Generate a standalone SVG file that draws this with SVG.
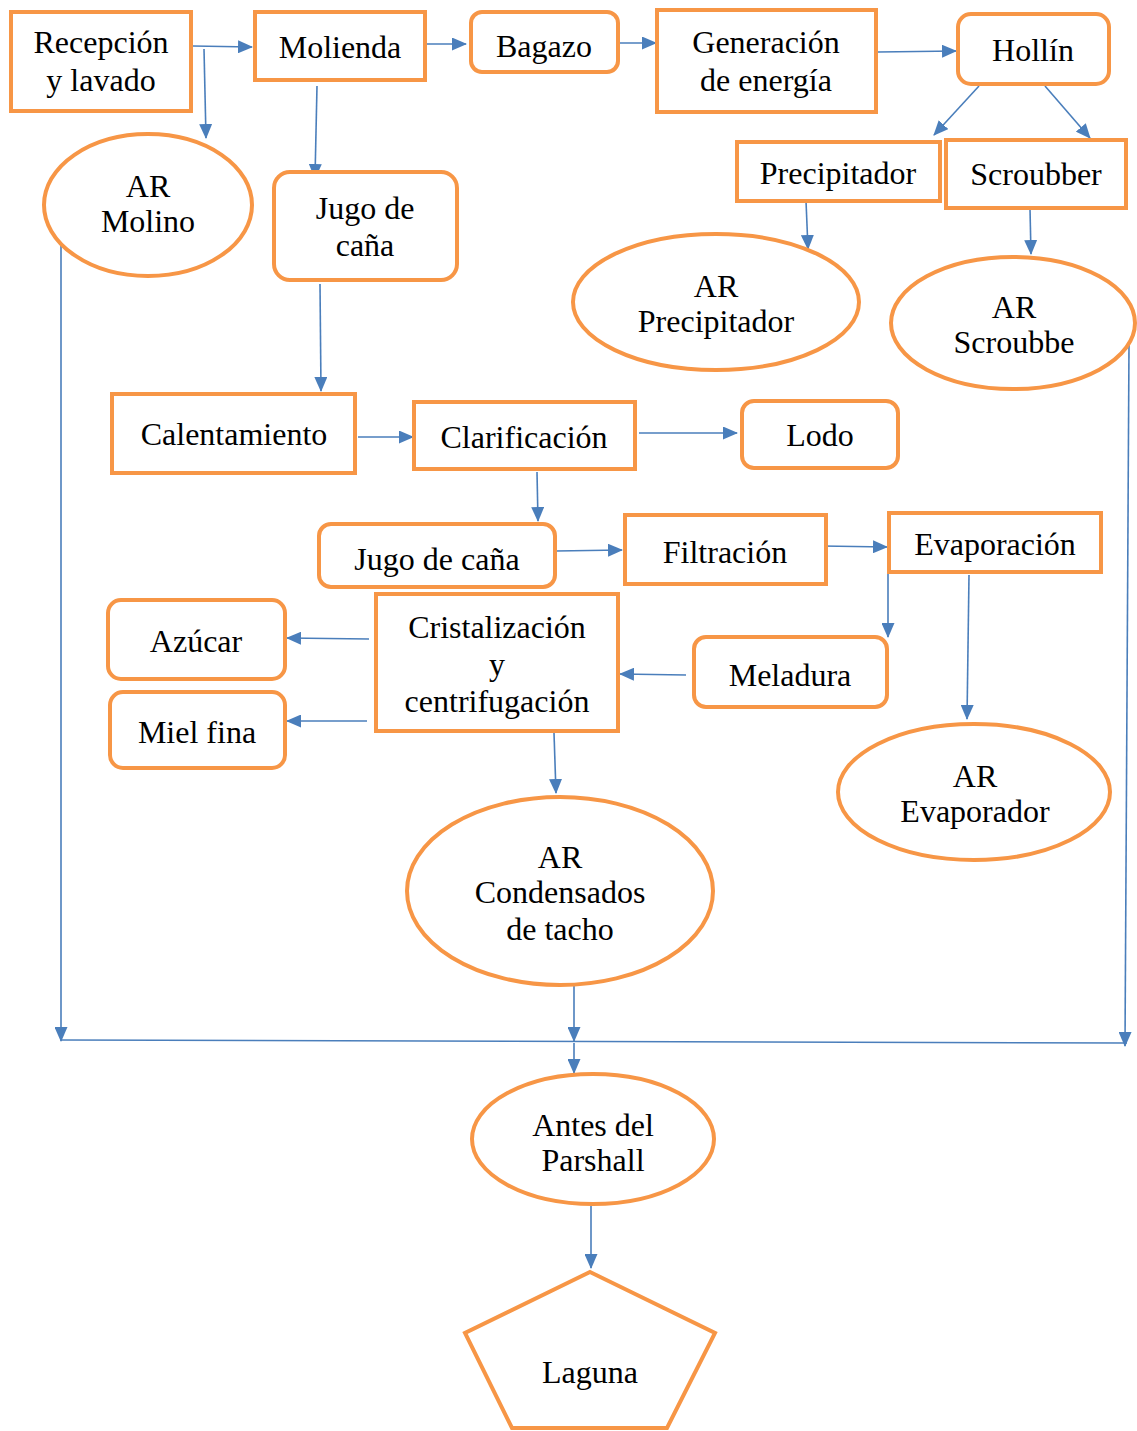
<svg xmlns="http://www.w3.org/2000/svg" width="1137" height="1431" viewBox="0 0 1137 1431">
<defs>
<style>
.n{fill:#fff;stroke:#F79646;stroke-width:4}
.t{font-family:"Liberation Serif","Times New Roman",serif;font-size:32px;fill:#000;text-anchor:middle}
.c{stroke:#4A7EBB;stroke-width:1.6;fill:none}
.a{marker-end:url(#ah)}
</style>
<marker id="ah" markerUnits="userSpaceOnUse" markerWidth="15" markerHeight="13" refX="14" refY="6.5" orient="auto">
<path d="M0,0 L15,6.5 L0,13 Z" fill="#4A7EBB"/>
</marker>
</defs>
<rect width="1137" height="1431" fill="#fff"/>
<g id="connectors">
<line class="c a" x1="193" y1="46" x2="252" y2="47"/>
<line class="c a" x1="204" y1="49" x2="206" y2="138"/>
<line class="c a" x1="427" y1="44" x2="466" y2="44"/>
<line class="c a" x1="620" y1="43" x2="656" y2="43"/>
<line class="c a" x1="878" y1="52" x2="956" y2="51"/>
<line class="c a" x1="979" y1="86" x2="934" y2="135"/>
<line class="c a" x1="1045" y1="86" x2="1090" y2="138"/>
<line class="c a" x1="317" y1="86" x2="315" y2="178"/>
<line class="c a" x1="806" y1="201" x2="808" y2="249"/>
<line class="c a" x1="1030" y1="209" x2="1031" y2="254"/>
<line class="c a" x1="320" y1="284" x2="321" y2="391"/>
<line class="c a" x1="358" y1="437" x2="413" y2="437"/>
<line class="c a" x1="639" y1="433" x2="737" y2="433"/>
<line class="c a" x1="537" y1="472" x2="538" y2="521"/>
<line class="c a" x1="556" y1="551" x2="622" y2="550"/>
<line class="c a" x1="822" y1="546" x2="887" y2="547"/>
<line class="c a" x1="888" y1="574" x2="888" y2="637"/>
<line class="c a" x1="969" y1="575" x2="967" y2="719"/>
<line class="c a" x1="686" y1="675" x2="620" y2="674"/>
<line class="c a" x1="369" y1="639" x2="287" y2="638"/>
<line class="c a" x1="367" y1="721" x2="287" y2="721"/>
<line class="c a" x1="554" y1="733" x2="556" y2="793"/>
<line class="c a" x1="61" y1="236" x2="61" y2="1041"/>
<line class="c a" x1="1129" y1="345" x2="1125" y2="1046"/>
<line class="c" x1="61" y1="1040" x2="1127" y2="1043"/>
<line class="c a" x1="574" y1="983" x2="574" y2="1041"/>
<line class="c a" x1="574" y1="1043" x2="574" y2="1073"/>
<line class="c a" x1="591" y1="1206" x2="591" y2="1268"/>
</g>
<g id="recepcion"><rect class="n" x="11" y="12" width="180" height="99"/><text class="t" x="101" y="53">Recepción</text><text class="t" x="101" y="91">y lavado</text></g>
<g id="molienda"><rect class="n" x="255" y="12" width="170" height="68"/><text class="t" x="340" y="58">Molienda</text></g>
<g id="bagazo"><rect class="n" x="471" y="12" width="147" height="60" rx="11"/><text class="t" x="544" y="57">Bagazo</text></g>
<g id="generacion"><rect class="n" x="657" y="10" width="219" height="102"/><text class="t" x="766" y="53">Generación</text><text class="t" x="766" y="91">de energía</text></g>
<g id="hollin"><rect class="n" x="958" y="14" width="151" height="70" rx="13"/><text class="t" x="1033" y="61">Hollín</text></g>
<g id="precipitador"><rect class="n" x="737" y="142" width="203" height="59"/><text class="t" x="838" y="184">Precipitador</text></g>
<g id="scroubber"><rect class="n" x="946" y="140" width="180" height="68"/><text class="t" x="1036" y="185">Scroubber</text></g>
<g id="ar-molino"><ellipse class="n" cx="148" cy="205" rx="104" ry="71"/><text class="t" x="148" y="197">AR</text><text class="t" x="148" y="232">Molino</text></g>
<g id="jugo1"><rect class="n" x="274" y="172" width="183" height="108" rx="16"/><text class="t" x="365" y="219">Jugo de</text><text class="t" x="365" y="256">caña</text></g>
<g id="ar-precipitador"><ellipse class="n" cx="716" cy="302" rx="143" ry="68"/><text class="t" x="716" y="297">AR</text><text class="t" x="716" y="332">Precipitador</text></g>
<g id="ar-scroubbe"><ellipse class="n" cx="1013" cy="323" rx="122" ry="66"/><text class="t" x="1014" y="318">AR</text><text class="t" x="1014" y="353">Scroubbe</text></g>
<g id="calentamiento"><rect class="n" x="112" y="394" width="243" height="79"/><text class="t" x="234" y="445">Calentamiento</text></g>
<g id="clarificacion"><rect class="n" x="414" y="402" width="221" height="67"/><text class="t" x="524" y="448">Clarificación</text></g>
<g id="lodo"><rect class="n" x="742" y="401" width="156" height="67" rx="12"/><text class="t" x="820" y="446">Lodo</text></g>
<g id="jugo2"><rect class="n" x="319" y="524" width="236" height="63" rx="12"/><text class="t" x="437" y="570">Jugo de caña</text></g>
<g id="filtracion"><rect class="n" x="625" y="515" width="201" height="69"/><text class="t" x="725" y="563">Filtración</text></g>
<g id="evaporacion"><rect class="n" x="889" y="513" width="212" height="59"/><text class="t" x="995" y="555">Evaporación</text></g>
<g id="azucar"><rect class="n" x="108" y="600" width="177" height="79" rx="13"/><text class="t" x="196" y="652">Azúcar</text></g>
<g id="cristalizacion"><rect class="n" x="376" y="594" width="242" height="137"/><text class="t" x="497" y="638">Cristalización</text><text class="t" x="497" y="675">y</text><text class="t" x="497" y="712">centrifugación</text></g>
<g id="meladura"><rect class="n" x="694" y="637" width="193" height="70" rx="12"/><text class="t" x="790" y="686">Meladura</text></g>
<g id="miel"><rect class="n" x="110" y="692" width="175" height="76" rx="13"/><text class="t" x="197" y="743">Miel fina</text></g>
<g id="ar-evaporador"><ellipse class="n" cx="974" cy="792" rx="136" ry="68"/><text class="t" x="975" y="787">AR</text><text class="t" x="975" y="822">Evaporador</text></g>
<g id="ar-condensados"><ellipse class="n" cx="560" cy="891" rx="153" ry="94"/><text class="t" x="560" y="868">AR</text><text class="t" x="560" y="903">Condensados</text><text class="t" x="560" y="940">de tacho</text></g>
<g id="antes"><ellipse class="n" cx="593" cy="1139" rx="121" ry="65"/><text class="t" x="593" y="1136">Antes del</text><text class="t" x="593" y="1171">Parshall</text></g>
<g id="laguna"><polygon class="n" points="590,1272 715,1333 667,1428 512,1428 465,1333"/><text class="t" x="590" y="1383">Laguna</text></g>
</svg>
